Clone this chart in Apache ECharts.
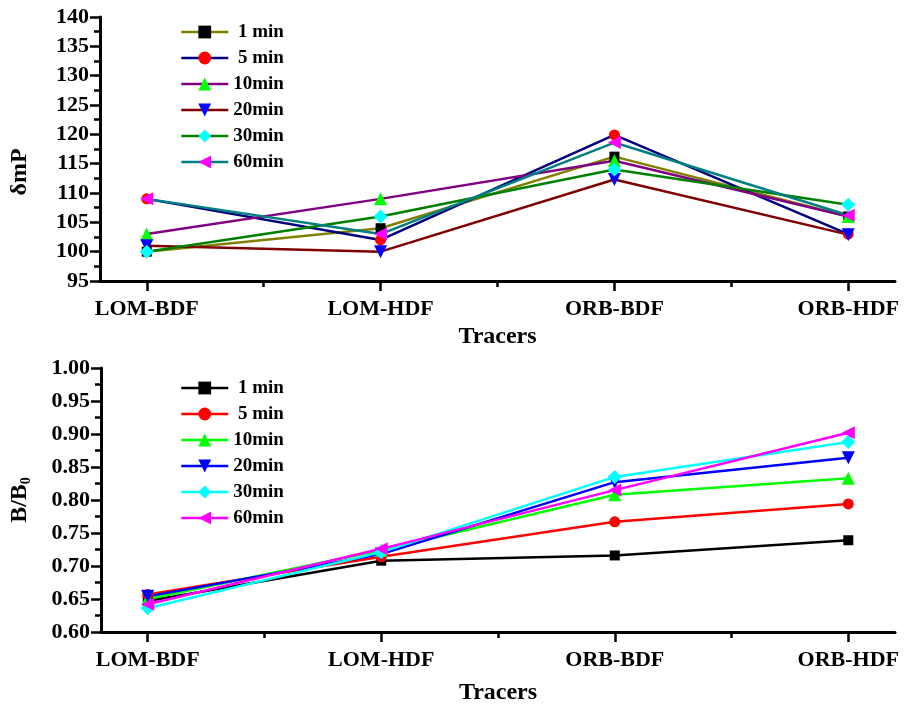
<!DOCTYPE html>
<html lang="en" style="height: 100%">
<head>
  <meta charset="utf-8">
  <title>dmP and B/B0 by tracer</title>
  <script type="text/javascript" src="https://fastly.jsdelivr.net/npm/echarts@6/dist/echarts.min.js"></script>
</head>
<body style="height: 100%; margin: 0; background: #fff">
  <div id="chart" style="width: 904px; height: 709px"></div>

  <script type="text/javascript">
    var dom = document.getElementById('chart');
    var myChart = echarts.init(dom);

    let tracers = ['LOM-BDF', 'LOM-HDF', 'ORB-BDF', 'ORB-HDF'];
    let times = [' 1 min', ' 5 min', '10min', '20min', '30min', '60min'];

    // top panel: deltamP
    let dmP1 = [100, 104, 116.2, 106];
    let dmP5 = [109, 102, 119.9, 103];
    let dmP10 = [103, 109, 115.5, 106];
    let dmP20 = [101, 100, 112.3, 102.9];
    let dmP30 = [100, 106, 114, 108];
    let dmP60 = [109, 103, 118.6, 106.2];

    // bottom panel: B/B0
    let bb1 = [0.647, 0.708, 0.716, 0.739];
    let bb5 = [0.657, 0.714, 0.767, 0.794];
    let bb10 = [0.650, 0.724, 0.808, 0.833];
    let bb20 = [0.654, 0.718, 0.827, 0.864];
    let bb30 = [0.636, 0.721, 0.835, 0.888];
    let bb60 = [0.642, 0.726, 0.815, 0.902];

    let majorTicks = [0, 1, 2, 3];
    let minorTicks = [0.5, 1.5, 2.5];

    const font = 'Liberation Serif';
    const markers = [
      { symbol: 'rect', size: 10, rotate: 0, color: '#000000' },
      { symbol: 'circle', size: 11, rotate: 0, color: '#ff0000' },
      { symbol: 'triangle', size: 13, rotate: 0, color: '#00ff00' },
      { symbol: 'triangle', size: 13, rotate: 180, color: '#0000ff' },
      { symbol: 'diamond', size: 14, rotate: 0, color: '#00ffff' },
      { symbol: 'triangle', size: 13, rotate: 90, color: '#ff00ff' }
    ];
    const topLines = ['#808000', '#000080', '#800080', '#800000', '#008000', '#008080'];
    const bottomLines = ['#000000', '#ff0000', '#00ff00', '#0000ff', '#00ffff', '#ff00ff'];

    function pairs(vals) {
      return vals.map((v, i) => [i, v]);
    }

    function makeSeries(sets, lineColors, xIdx, yIdx) {
      return sets.map((vals, i) => ({
        name: times[i],
        type: 'line',
        xAxisIndex: xIdx,
        yAxisIndex: yIdx,
        data: pairs(vals),
        symbol: markers[i].symbol,
        symbolSize: markers[i].size,
        symbolRotate: markers[i].rotate,
        showAllSymbol: true,
        lineStyle: { color: lineColors[i], width: 2.5 },
        itemStyle: { color: markers[i].color, borderWidth: 0 },
        emphasis: { disabled: true },
        animation: false
      }));
    }

    function mainX(grid, gap) {
      return {
        type: 'value', gridIndex: grid, position: 'bottom', min: -0.2, max: 3.2,
        name: 'Tracers', nameLocation: 'middle', nameGap: gap,
        nameTextStyle: { fontFamily: font, fontWeight: 'bold', fontSize: 24, color: '#000' },
        axisLine: { show: true, onZero: false, lineStyle: { color: '#000', width: 3 } },
        axisTick: { show: true, customValues: majorTicks, length: 10, lineStyle: { color: '#000', width: 2.5 } },
        axisLabel: {
          customValues: majorTicks, margin: 17,
          fontFamily: font, fontWeight: 'bold', fontSize: 22, color: '#000',
          formatter: v => tracers[Math.round(v)]
        },
        splitLine: { show: false }
      };
    }

    function minorX(grid) {
      return {
        type: 'value', gridIndex: grid, position: 'bottom', min: -0.2, max: 3.2,
        axisLine: { show: false, onZero: false },
        axisTick: { show: true, customValues: minorTicks, length: 6, lineStyle: { color: '#000', width: 2.5 } },
        axisLabel: { show: false },
        splitLine: { show: false }
      };
    }

    function yAxisOf(grid, min, max, interval, name, digits, pad) {
      return {
        type: 'value', gridIndex: grid, min: min, max: max, interval: interval,
        name: name, nameLocation: 'middle', nameGap: 68,
        nameTextStyle: {
          fontFamily: font, fontWeight: 'bold', fontSize: 24, color: '#000', padding: pad,
          rich: { sub: { fontFamily: font, fontWeight: 'bold', fontSize: 14, verticalAlign: 'bottom', padding: [12, 0, 0, 0] } }
        },
        axisLine: { show: true, onZero: false, lineStyle: { color: '#000', width: 3 } },
        axisTick: { show: true, length: 10, lineStyle: { color: '#000', width: 2.5 } },
        minorTick: { show: true, splitNumber: 2, length: 6, lineStyle: { color: '#000', width: 2.5 } },
        axisLabel: {
          margin: 11, fontFamily: font, fontWeight: 'bold', fontSize: 22, color: '#000',
          formatter: v => v.toFixed(digits)
        },
        splitLine: { show: false },
        minorSplitLine: { show: false }
      };
    }

    function legendOf(top, seriesNames) {
      return {
        orient: 'vertical', left: 175, top: top,
        itemWidth: 47, itemHeight: 16, itemGap: 6,
        selectedMode: false,
        data: seriesNames,
        lineStyle: { width: 2.5 },
        textStyle: { fontFamily: font, fontWeight: 'bold', fontSize: 19, color: '#000', lineHeight: 20 }
      };
    }

    let topSeries = makeSeries([dmP1, dmP5, dmP10, dmP20, dmP30, dmP60], topLines, 0, 0);
    let bottomSeries = makeSeries([bb1, bb5, bb10, bb20, bb30, bb60], bottomLines, 2, 1);
    // separate legend names per panel
    bottomSeries.forEach(s => { s.name = s.name + '\u200b'; });

    let option = {
      backgroundColor: '#fff',
      animation: false,
      grid: [
        { left: 97, right: 9, top: 17, height: 264 },
        { left: 97, right: 9, top: 368, height: 264 }
      ],
      xAxis: [mainX(0, 44), minorX(0), mainX(1, 49), minorX(1)],
      yAxis: [
        yAxisOf(0, 95, 140, 5, '\u03b4mP', 0, [0, 46, 0, 0]),
        yAxisOf(1, 0.6, 1.0, 0.05, 'B/B{sub|0}', 2, 0)
      ],
      legend: [
        legendOf(17, topSeries.map(s => s.name)),
        legendOf(373, bottomSeries.map(s => s.name))
      ],
      series: topSeries.concat(bottomSeries)
    };

    myChart.setOption(option);
  </script>
</body>
</html>
